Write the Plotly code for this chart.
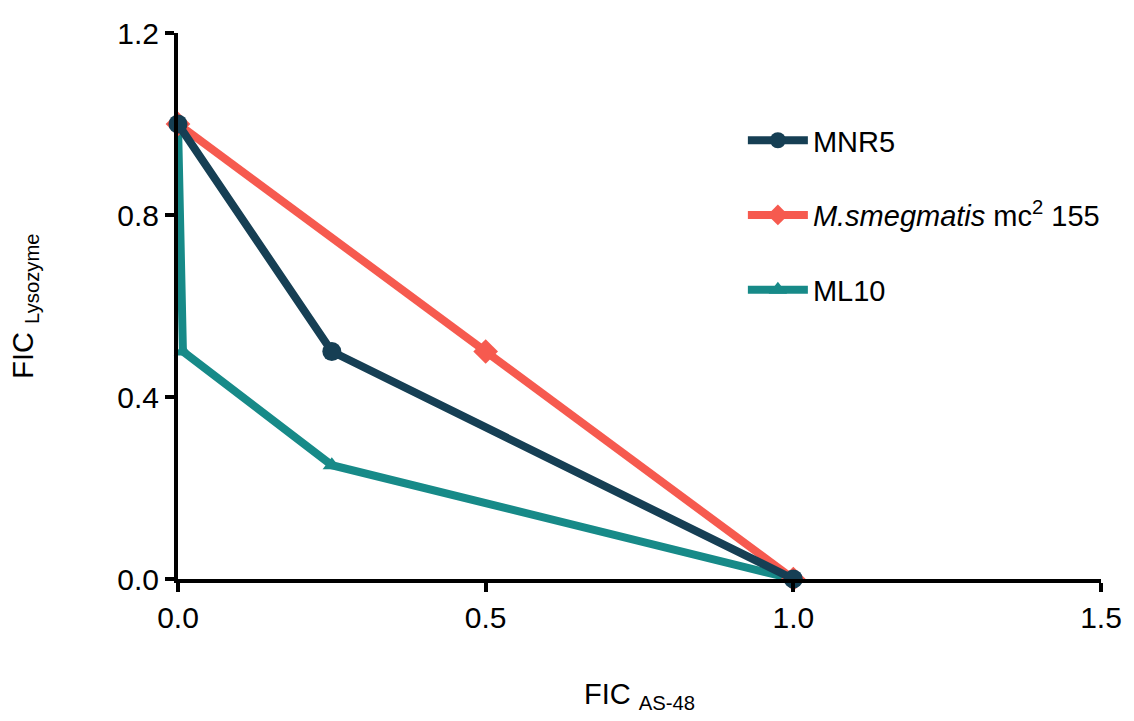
import plotly.graph_objects as go

# Data
mnr5_x = [0.0, 0.25, 1.0]
mnr5_y = [1.0, 0.5, 0.0]
msmeg_x = [0.0, 0.5, 1.0]
msmeg_y = [1.0, 0.5, 0.0]
ml10_x = [0.0, 0.008, 0.25, 1.0]
ml10_y = [1.0, 0.5, 0.25, 0.0]

x_ticks = [0.0, 0.5, 1.0, 1.5]
x_ticklabels = ["0.0", "0.5", "1.0", "1.5"]
y_ticks = [0.0, 0.4, 0.8, 1.2]
y_ticklabels = ["0.0", "0.4", "0.8", "1.2"]

NAVY = "#163f54"
RED = "#f65a4f"
TEAL = "#178a88"
FONT = "Arial, Liberation Sans, sans-serif"

fig = go.Figure()
fig.add_trace(go.Scatter(x=ml10_x, y=ml10_y, mode="lines+markers", name="ML10",
                         line=dict(color=TEAL, width=8),
                         marker=dict(symbol="triangle-up", size=16, color=TEAL),
                         legendgroup="c", legendrank=3, cliponaxis=False))
fig.add_trace(go.Scatter(x=msmeg_x, y=msmeg_y, mode="lines+markers",
                         name="<i>M.smegmatis</i> mc<sup>2</sup> 155",
                         line=dict(color=RED, width=8),
                         marker=dict(symbol="diamond", size=19, color=RED),
                         legendgroup="b", legendrank=2, cliponaxis=False))
fig.add_trace(go.Scatter(x=mnr5_x, y=mnr5_y, mode="lines+markers", name="MNR5",
                         line=dict(color=NAVY, width=8),
                         marker=dict(symbol="circle", size=19, color=NAVY),
                         legendgroup="a", legendrank=1, cliponaxis=False))

axis_common = dict(showline=True, linecolor="black", linewidth=4,
                   ticks="outside", ticklen=9, tickwidth=4, tickcolor="black",
                   showgrid=False, zeroline=False,
                   tickfont=dict(family=FONT, size=30, color="black"))

fig.update_layout(
    width=1134, height=721,
    margin=dict(l=178, r=26, t=33, b=142),
    paper_bgcolor="white", plot_bgcolor="white",
    font=dict(family=FONT, color="black"),
    xaxis=dict(range=[0, 1.5], tickvals=x_ticks, ticktext=x_ticklabels,
               title=dict(text="FIC <sub>AS-48</sub>", font=dict(size=29), standoff=52),
               **axis_common),
    yaxis=dict(range=[0, 1.2], tickvals=y_ticks, ticktext=y_ticklabels,
               title=dict(text="FIC <sub>Lysozyme</sub>", font=dict(size=29), standoff=76),
               **axis_common),
    legend=dict(x=0.612, y=0.85, xanchor="left", yanchor="top",
                font=dict(size=29, family=FONT), tracegroupgap=34,
                itemwidth=60,
                bgcolor="rgba(0,0,0,0)", traceorder="grouped"),
)

fig.write_html("out.html")
